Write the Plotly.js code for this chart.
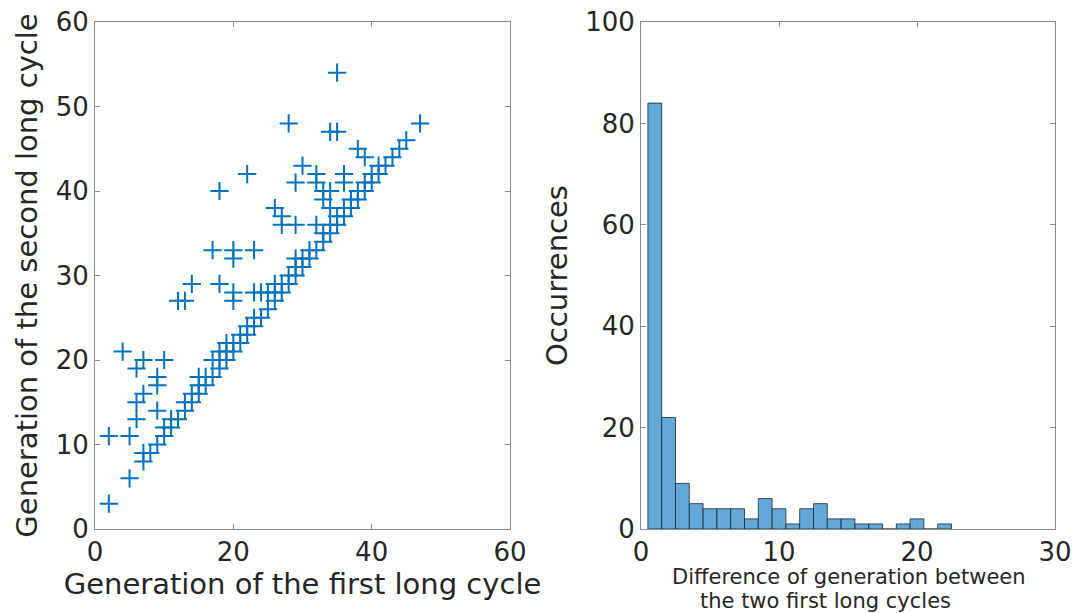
<!DOCTYPE html>
<html>
<head>
<meta charset="utf-8">
<script src="https://cdn.plot.ly/plotly-3.0.1.min.js"></script>
<style>html,body{margin:0;padding:0;background:#fff;}#chart{width:1078px;height:613px;}</style>
</head>
<body>
<div id="chart"></div>
<script>
// Scatter: generation of first long cycle (x) vs second long cycle (y)
const firstGen = [
  2,5,7,8,9,10,11,12,13,14,15,16,17,18,19,20,21,22,23,24,25,26,27,28,29,30,31,32,33,34,35,36,37,38,39,40,41,42,43,44,45,47,
  7,10,11,13,14,15,16,18,19,20,21,22,23,26,27,28,29,31,33,34,35,36,37,38,39,40,41,
  19,26,29,30,
  2,5,6,9,6,7,9,9,6,7,10,4,12,13,14,18,20,20,20,20,17,23,23,24,25,26,27,27,29,32,18,22,28,29,30,32,32,33,33,34,36,36,34,35,35,38,39,15,17,18,34
];
const secondGen = [
  3,6,8,9,10,11,12,13,14,15,16,17,18,19,20,21,22,23,24,25,26,27,28,29,30,31,32,33,34,35,36,37,38,39,40,41,42,43,44,45,46,48,
  9,12,13,15,16,17,18,20,21,22,23,24,25,28,29,30,31,33,35,36,37,38,39,40,41,42,43,
  22,29,32,32,
  11,11,13,14,15,16,17,18,19,20,20,21,27,27,29,29,27,28,32,33,33,33,28,28,28,38,37,36,36,36,40,42,48,41,43,42,41,39,40,40,42,41,47,47,54,45,44,18,20,21,38
];

// Histogram of differences (bin centres and counts)
const diffBins = [1,2,3,4,5,6,7,8,9,10,11,12,13,14,15,16,17,18,19,20,21,22];
const diffCounts = [84,22,9,5,4,4,4,2,6,4,1,4,5,2,2,1,1,0,1,2,0,1];

const scatterTicks = [0,20,40,60];
const scatterYTicks = [0,10,20,30,40,50,60];
const histXTicks = [0,10,20,30];
const histYTicks = [0,20,40,60,80,100];

const font = 'DejaVu Sans, sans-serif';
const axisCol = '#8c8c8c';
const txtCol = '#262626';

const traces = [
  {
    type: 'scatter', mode: 'markers', x: firstGen, y: secondGen,
    xaxis: 'x', yaxis: 'y',
    marker: {symbol: 'cross-thin-open', size: 13, color: '#0072BD', line: {color: '#0072BD', width: 2}},
    hoverinfo: 'x+y'
  },
  {
    type: 'bar', x: diffBins, y: diffCounts, width: 1,
    xaxis: 'x2', yaxis: 'y2',
    marker: {color: '#63a9d8', line: {color: 'rgba(20,30,40,0.75)', width: 1}}
  }
];

function ax(extra) {
  return Object.assign({
    showgrid: false, zeroline: false, showline: true, mirror: 'ticks',
    linecolor: axisCol, linewidth: 1,
    ticks: 'inside', ticklen: 5, tickcolor: axisCol, tickwidth: 1,
    tickfont: {family: font, size: 26, color: txtCol}
  }, extra);
}

const layout = {
  width: 1078, height: 613,
  margin: {l: 0, r: 0, t: 22, b: 84},
  paper_bgcolor: '#ffffff', plot_bgcolor: '#ffffff',
  showlegend: false,
  font: {family: font, color: txtCol},
  xaxis: ax({domain: [95/1078, 510/1078], range: [0, 60], tickvals: scatterTicks, anchor: 'y',
    title: {text: 'Generation of the first long cycle', font: {family: font, size: 29, color: txtCol}, standoff: 5}}),
  yaxis: ax({domain: [0, 1], range: [0, 60], tickvals: scatterYTicks, anchor: 'x',
    title: {text: 'Generation of the second long cycle', font: {family: font, size: 29, color: txtCol}, standoff: 9}}),
  xaxis2: ax({domain: [641/1078, 1055/1078], range: [0, 30], tickvals: histXTicks, anchor: 'y2'}),
  yaxis2: ax({domain: [0, 1], range: [0, 100], tickvals: histYTicks, anchor: 'x2',
    title: {text: 'Occurrences', font: {family: font, size: 29, color: txtCol}, standoff: 9}}),
  annotations: [
    {text: 'Difference of generation between', xref: 'paper', yref: 'paper', x: 849/1078, y: (613-84-577)/507, yanchor: 'middle', xanchor: 'center', showarrow: false, font: {family: font, size: 21, color: txtCol}},
    {text: 'the two first long cycles', xref: 'paper', yref: 'paper', x: 825/1078, y: (613-84-601)/507, yanchor: 'middle', xanchor: 'center', showarrow: false, font: {family: font, size: 21, color: txtCol}}
  ]
};

Plotly.newPlot('chart', traces, layout, {displayModeBar: false, staticPlot: true});
</script>
</body>
</html>
